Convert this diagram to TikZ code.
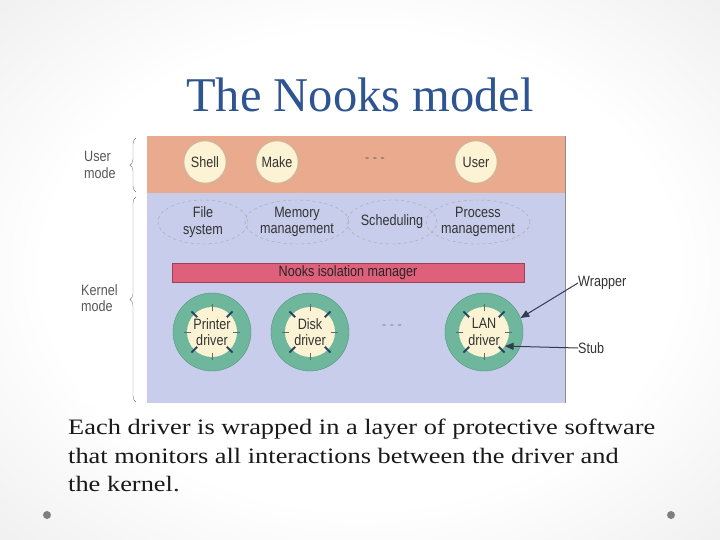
\documentclass[tikz,border=0pt]{standalone}
\usepackage{fontspec}
\setmainfont{Liberation Serif}
\newfontfamily\figfont[FakeStretch=0.84]{Liberation Sans}
\newfontfamily\capfont[FakeStretch=1.2]{Liberation Serif}
\usepackage{tikz}
\usetikzlibrary{arrows}
\usetikzlibrary{shapes.geometric}
\usetikzlibrary{decorations.pathreplacing}
\definecolor{titleblue}{RGB}{46,84,145}
\definecolor{usrband}{RGB}{233,170,142}
\definecolor{krnband}{RGB}{199,205,234}
\definecolor{cream}{RGB}{252,242,212}
\definecolor{usrline}{RGB}{214,178,150}
\definecolor{isobar}{RGB}{222,96,122}
\definecolor{ringgreen}{RGB}{110,182,156}
\definecolor{ringline}{RGB}{82,150,128}
\definecolor{tickblue}{RGB}{40,70,100}
\definecolor{arrowgrey}{RGB}{50,60,80}
\pgfdeclareradialshading{slidebg}{\pgfpoint{0bp}{0bp}}{color(0bp)=(white); color(22bp)=(white); color(50bp)=(black!12); color(72bp)=(black!17)}
\tikzset{
every node/.style={inner sep=0pt},
figtext/.style={font=\figfont\fontsize{15}{16.5}\selectfont, text=black!80, align=center},
usr/.style={circle, draw=usrline, line width=1.5pt, fill=cream, minimum size=43pt, figtext},
sub/.style={ellipse, draw=black!35, dashed, minimum width=90pt, minimum height=44pt, figtext},
ring/.style={circle, draw=ringline, fill=ringgreen, minimum size=78pt},
drv/.style={circle, fill=cream, minimum size=50pt, figtext},
modelabel/.style={figtext, align=left, text=black!65}
}

\begin{document}
\begin{tikzpicture}[x=1pt, y=-1pt]
\useasboundingbox (0,0) rectangle (720,540);
\shade[shading=slidebg] (0,0) rectangle (720,540);

\node[font=\fontsize{48.5}{58}\selectfont, text=titleblue] (title) at (360,95) {The Nooks model};

% the figure
\fill[white] (80,135) rectangle (628,404);
\fill[usrband] (147,136) rectangle (565,193);
\fill[krnband] (147,193) rectangle (565,403);
\draw[black!45] (565,136) -- (565,403);

\draw[black!50, decorate, decoration={brace, amplitude=6pt}] (136,192) -- (136,138);
\draw[black!50, decorate, decoration={brace, amplitude=6pt}] (136,402) -- (136,197);
\node[modelabel, anchor=west] (um) at (84,165) {User\\mode};
\node[modelabel, anchor=west] (km) at (81,298) {Kernel\\mode};

\node[usr] (shell) at (205,162) {Shell};
\node[usr] (make) at (277,162) {Make};
\node[figtext, text=usrline!60!black] (udots) at (375,160) {- - -};
\node[usr] (user) at (476,162) {User};

\node[sub] (fs) at (203,222) {File\\system};
\node[sub] (mm) at (297,222) {Memory\\management};
\node[sub] (sch) at (392,222) {Scheduling};
\node[sub] (pm) at (478,222) {Process\\management};

\node[fill=isobar, draw=isobar!70!black, minimum width=352pt, minimum height=19pt, figtext, text=black!85] (nim) at (348,273) {Nooks isolation manager};

\foreach \n/\x/\t in {p/212/Printer, d/310/Disk, l/484/LAN}{
  \node[ring] (\n-ring) at (\x,332) {};
  \node[drv] (\n) at (\x,332) {\t\\driver};
  \foreach \a in {45,135,225,315}
    \draw[tickblue, line width=2pt] (\n) ++(\a:21) -- ++(\a:8);
  \foreach \a in {0,90,180,270}
    \draw[black!60, line width=0.8pt] (\n) ++(\a:21) -- ++(\a:7);
}
\node[figtext, text=black!45] (ddots) at (392,327) {- - -};

\node[figtext, anchor=west] (wrap) at (578,283) {Wrapper};
\node[figtext, anchor=west] (stub) at (578,348) {Stub};
\draw[-triangle 45, arrowgrey, line width=1pt] (wrap.west) -- (l-ring.21);
\draw[-triangle 45, arrowgrey, line width=1pt] (stub.west) -- (l.-34);

% caption
\node[anchor=north west, align=left, font=\capfont\fontsize{22}{28.5}\selectfont, text=black!90] (cap) at (68,419)
{Each driver is wrapped in a layer of protective software\\that monitors all interactions between the driver and\\the kernel.};

\fill[black!50] (47,515) circle (4) (671,515) circle (4);
\end{tikzpicture}
\end{document}
